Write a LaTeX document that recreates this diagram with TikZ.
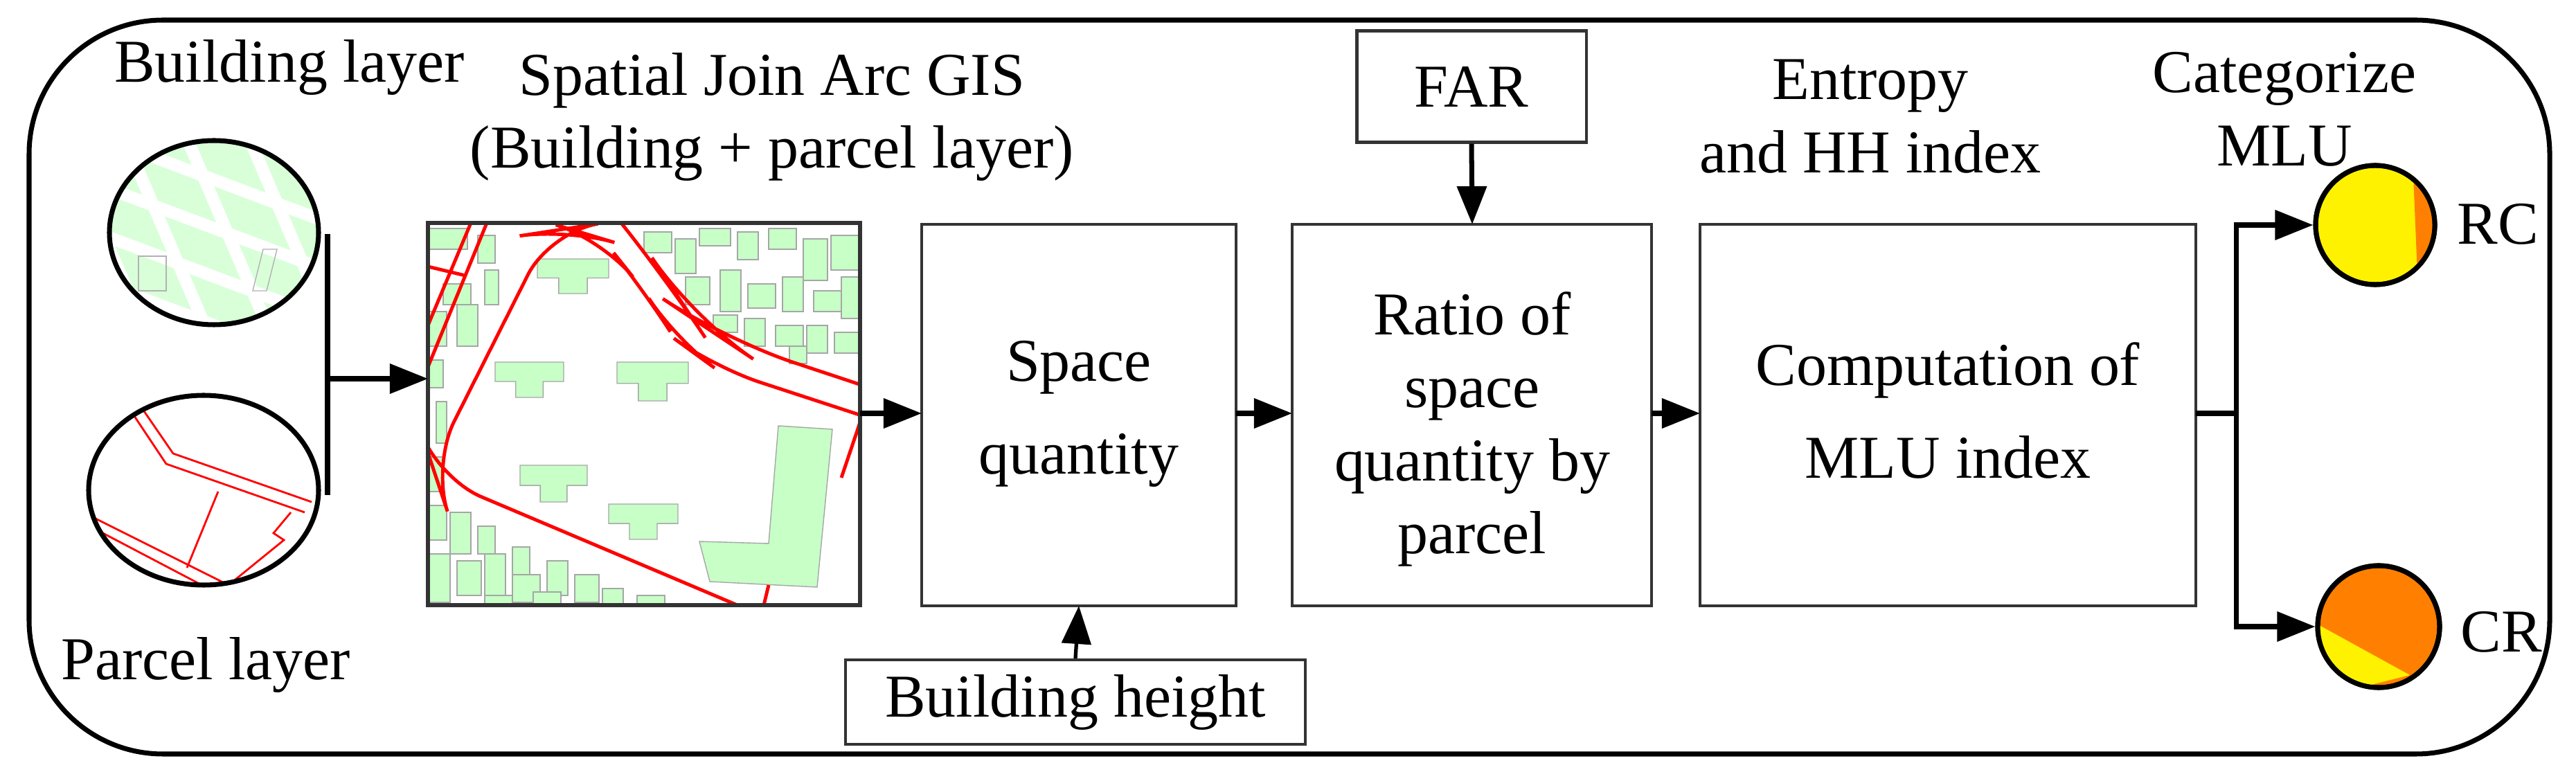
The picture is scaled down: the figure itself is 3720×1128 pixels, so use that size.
\documentclass[tikz,border=0pt]{standalone}
\usepackage{fontspec}
\setmainfont{Liberation Serif}
\usetikzlibrary{arrows.meta}
\begin{document}
\begin{tikzpicture}[x=0.01cm,y=-0.01cm,
  every node/.style={font=\fontsize{25}{30}\selectfont, align=center},
  box/.style={draw=black!80, line width=1.2pt, fill=white},
  arr/.style={-{Triangle[length=0.55cm,width=0.42cm]}, line width=2pt, black},
  bld/.style={fill=green!22!white, draw=black!35, line width=0.4pt}]
\useasboundingbox (0,0) rectangle (3720,1128);
\newcommand\myhouse[4]{\path[bld] (#1,#2) -- ++(#3,0) -- ++(0,0.55*#4) -- ++(-0.3*#3,0) -- ++(0,0.45*#4) -- ++(-0.4*#3,0) -- ++(0,-0.45*#4) -- ++(-0.3*#3,0) -- cycle;}
% frame
\draw[line width=2pt, rounded corners=55] (42,29) rectangle (3682,1089);
% titles
\node (tbl) at (418,97) {Building layer};
\node (tpl) at (297,960) {Parcel layer};
\node (tsj) at (1115,169) {Spatial Join Arc GIS\\(Building + parcel layer)};
\node (tent) at (2701,168) {Entropy\\and HH index};
\node (tcat) at (3299,158) {Categorize\\MLU};
% building circle
\begin{scope}
\clip (309,336) ellipse [x radius=151, y radius=133];
\fill[green!15!white] (150,190) rectangle (470,480);
\foreach \dx in {-160,-70,20,110,200}
  \draw[white, line width=5pt] (250+\dx,200) -- (370+\dx,480);
\foreach \dy in {-100,-30,40,110}
  \draw[white, line width=5pt] (150,300+\dy) -- (470,420+\dy);
\draw[black!30] (200,370) rectangle (240,420);
\draw[black!30] (380,360) -- (400,360) -- (385,420) -- (365,420) -- cycle;
\end{scope}
\draw[line width=2pt] (309,336) ellipse [x radius=151, y radius=133];
% parcel circle
\begin{scope}
\clip (294,708) ellipse [x radius=166, y radius=137];
\fill[white] (120,560) rectangle (470,860);
\draw[red, line width=0.8pt] (180,580) -- (240,670) -- (440,740);
\draw[red, line width=0.8pt] (195,575) -- (250,655) -- (450,725);
\draw[red, line width=0.8pt] (120,740) -- (330,845) -- (410,780) -- (395,770) -- (420,740);
\draw[red, line width=0.8pt] (120,755) -- (320,860);
\draw[red, line width=0.8pt] (315,710) -- (270,820);
\draw[red, line width=0.8pt] (140,600) -- (125,700);
\end{scope}
\draw[line width=2pt] (294,708) ellipse [x radius=166, y radius=137];
% join line
\coordinate (jt) at (473,338);
\coordinate (jb) at (473,715);
\coordinate (jm) at (473,547);
\draw[line width=2pt] (jt) -- (jb);
% map
\begin{scope}
\clip (618,322) rectangle (1242,874);
\fill[white] (618,322) rectangle (1242,874);
\foreach \x/\y/\w/\h in {930/335/40/30,975/345/30/50,1010/330/45/25,1065/335/30/40,1110/330/40/30,1160/345/35/60,1200/340/40/50,
  990/400/35/40,1040/390/30/60,1080/410/40/35,1130/400/30/50,1175/420/50/30,1215/400/30/60,
  1030/455/35/25,1075/460/30/40,1120/470/40/30,1165/470/30/40,1205/480/35/30,
  1140/500/25/25}
  \path[bld] (\x,\y) rectangle ++(\w,\h);
\foreach \x/\y/\w/\h in {620/330/55/30,690/340/25/40,700/390/20/50,640/410/40/30,620/450/25/50,660/440/30/60,620/520/20/40,630/580/15/60,620/660/20/50}
  \path[bld] (\x,\y) rectangle ++(\w,\h);
\foreach \x/\y/\w/\h in {620/730/25/50,650/740/30/60,690/760/25/40,620/800/30/70,660/810/35/50,700/800/30/60,740/790/25/40,
  740/830/40/40,790/810/30/50,830/830/35/40,870/850/30/25,700/860/40/20,770/855/40/20,920/860/40/20}
  \path[bld] (\x,\y) rectangle ++(\w,\h);
\myhouse{776}{374}{103}{50}
\myhouse{715}{523}{99}{51}
\myhouse{891}{523}{103}{56}
\myhouse{751}{672}{97}{53}
\myhouse{879}{728}{100}{51}
\path[bld] (1124,615) -- (1202,620) -- (1180,848) -- (1025,840) -- (1010,782) -- (1110,785) -- cycle;
\draw[red, line width=1.4pt, rounded corners=20] (1250,602) -- (1030,530) -- (975,490) -- (930,420) -- (870,345) -- (820,330) -- (794,334) -- (624,672) -- (630,690) -- (1079,880);
\draw[red, line width=1.4pt, rounded corners=30] (897,322) -- (960,400) -- (1000,460) -- (1045,490) -- (1250,558);
\draw[red, line width=1.4pt] (703,322) -- (618,530);
\draw[red, line width=1.4pt] (680,322) -- (618,470);
\draw[red, line width=1.4pt] (618,385) -- (672,398);
\draw[red, line width=1.4pt] (1242,610) -- (1215,690);
\draw[red, line width=1.4pt] (1103,874) -- (1110,845);
\end{scope}
\draw[black!80, line width=1.5pt] (618,322) rectangle (1242,874);
\coordinate (mapL) at (618,547);
\coordinate (mapR) at (1242,597);
% boxes
\path[box] (1331,324) rectangle (1785,875);
\node (sq) at (1558,598) {Space\\[8pt]quantity};
\path[box] (1866,324) rectangle (2385,875);
\node (ratio) at (2126,620) {Ratio of\\space\\quantity by\\parcel};
\path[box] (2455,324) rectangle (3171,875);
\node (comp) at (2813,593) {Computation of\\[8pt]MLU index};
\node[box, minimum width=3.31cm, minimum height=1.61cm, inner sep=0pt] (far) at (2125,125) {FAR};
\node[box, inner sep=0pt, minimum width=6.63cm, minimum height=1.22cm] (bh) at (1553,1014) {Building height};
\coordinate (sqL) at (1331,597); \coordinate (sqR) at (1785,597);
\coordinate (sqB) at (1558,875);
\coordinate (raL) at (1866,597); \coordinate (raR) at (2385,597);
\coordinate (raT) at (2126,324);
\coordinate (coL) at (2455,597); \coordinate (coR) at (3171,597);
\draw[arr] (jm) -- (mapL);
\draw[arr] (mapR) -- (sqL);
\draw[arr] (sqR) -- (raL);
\draw[arr] (raR) -- (coL);
\draw[arr] (far.south) -- (raT);
\draw[arr, line width=1.5pt] (bh.north) -- (sqB);
% circles
\coordinate (br) at (3229,597);
\node[circle, draw, line width=2pt, minimum size=1.72cm, inner sep=0pt, fill=yellow] (rc) at (3430,325) {};
\begin{scope}
\clip (3430,325) circle (86);
\fill[orange] (3484,230) -- (3492,420) -- (3530,420) -- (3530,230) -- cycle;
\end{scope}
\draw[line width=2pt] (3430,325) circle (86);
\node[circle, draw, line width=2pt, minimum size=1.76cm, inner sep=0pt, fill=orange] (cr) at (3435,905) {};
\begin{scope}
\clip (3435,905) circle (88);
\fill[yellow] (3340,898) -- (3480,975) -- (3340,1010) -- cycle;
\end{scope}
\draw[line width=2pt] (3435,905) circle (88);
\draw[line width=2pt] (coR) -- (br);
\draw[arr] (br) |- (rc.west);
\draw[arr] (br) |- (cr.west);
\node (rct) at (3607,324) {RC};
\node (crt) at (3612,913) {CR};
\end{tikzpicture}
\end{document}
